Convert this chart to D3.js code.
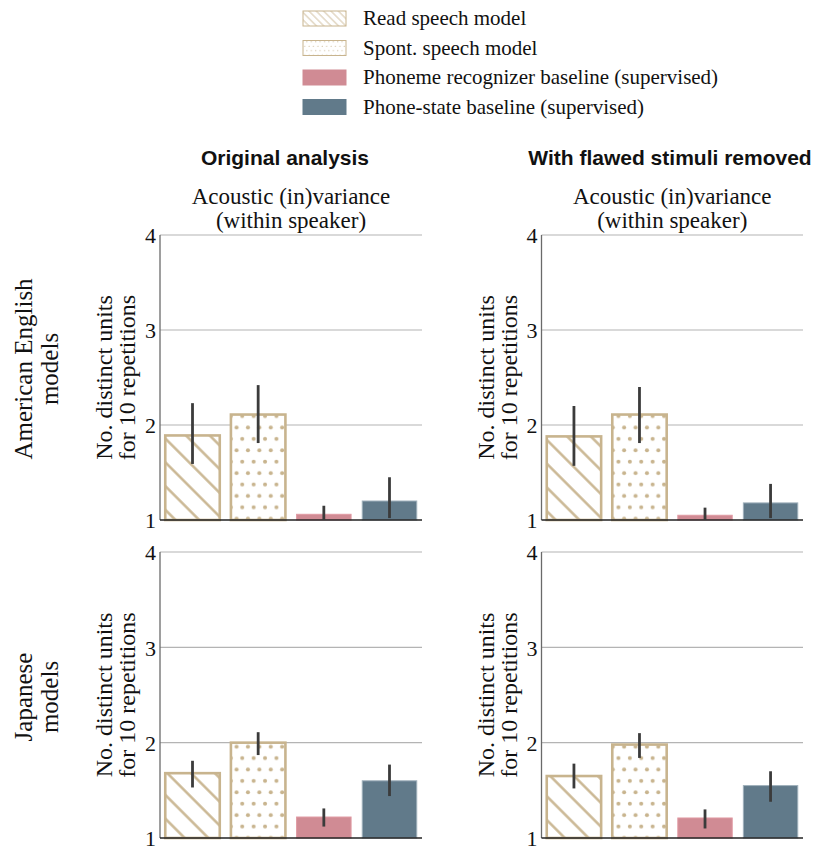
<!DOCTYPE html>
<html>
<head>
<meta charset="utf-8">
<script src="https://cdn.jsdelivr.net/npm/d3@7/dist/d3.min.js"></script>
<style>
  html, body { margin: 0; padding: 0; background: #fff; }
  svg { display: block; }
</style>
</head>
<body>
<svg id="chart" width="817" height="850"></svg>
<script>
// Model names (legend order = bar order)
const models = [
  "Read speech model",
  "Spont. speech model",
  "Phoneme recognizer baseline (supervised)",
  "Phone-state baseline (supervised)"
];

// Column and row headings
const columnTitles = ["Original analysis", "With flawed stimuli removed"];
const panelSubtitle = ["Acoustic (in)variance", "(within speaker)"];
const rowLabels = [["American English", "models"], ["Japanese", "models"]];
const yLabelLines = ["No. distinct units", "for 10 repetitions"];
const yTicks = [1, 2, 3, 4];

// Mean number of distinct units, with 95% interval bounds
const engOriginal     = [1.89, 2.11, 1.06, 1.20];
const engOriginalLo   = [1.59, 1.81, 1.00, 1.02];
const engOriginalHi   = [2.23, 2.42, 1.15, 1.45];

const engFiltered     = [1.88, 2.11, 1.05, 1.18];
const engFilteredLo   = [1.57, 1.81, 1.00, 1.02];
const engFilteredHi   = [2.20, 2.40, 1.13, 1.38];

const jpOriginal      = [1.68, 2.00, 1.22, 1.60];
const jpOriginalLo    = [1.53, 1.87, 1.12, 1.44];
const jpOriginalHi    = [1.81, 2.11, 1.31, 1.77];

const jpFiltered      = [1.65, 1.98, 1.21, 1.55];
const jpFilteredLo    = [1.52, 1.84, 1.10, 1.38];
const jpFilteredHi    = [1.78, 2.10, 1.30, 1.70];

const panels = [
  { row: 0, col: 0, mean: engOriginal, lo: engOriginalLo, hi: engOriginalHi },
  { row: 0, col: 1, mean: engFiltered, lo: engFilteredLo, hi: engFilteredHi },
  { row: 1, col: 0, mean: jpOriginal,  lo: jpOriginalLo,  hi: jpOriginalHi },
  { row: 1, col: 1, mean: jpFiltered,  lo: jpFilteredLo,  hi: jpFilteredHi }
];

// ---- layout & style ----
const SERIF = "'Liberation Serif', 'Times New Roman', serif";
const SANS = "'Liberation Sans', Arial, Helvetica, sans-serif";
const TAN = "#c8b48e";
const PINK = "#d08b94";
const PINK_EDGE = "#e09aa3";
const SLATE = "#617a8a";
const SLATE_EDGE = "#9fb0bb";
const ERR = "#3b3b3b";

const colX = [[160, 422], [541.5, 803]];
const rowY = [[235, 520], [552, 838]];

const svg = d3.select("#chart");
const defs = svg.append("defs");

// diagonal hatch for the read-speech bars
function hatchPattern(id, spacing, width) {
  const p = defs.append("pattern")
    .attr("id", id)
    .attr("patternUnits", "userSpaceOnUse")
    .attr("width", spacing).attr("height", spacing)
    .attr("patternTransform", "rotate(45)");
  p.append("rect").attr("width", spacing).attr("height", spacing).attr("fill", "#fff");
  p.append("line")
    .attr("x1", 0).attr("x2", spacing)
    .attr("y1", spacing / 2).attr("y2", spacing / 2)
    .attr("stroke", TAN).attr("stroke-width", width);
}
// staggered dot grid for the spontaneous-speech bars
function dotPattern(id, gap, r) {
  const p = defs.append("pattern")
    .attr("id", id)
    .attr("patternUnits", "userSpaceOnUse")
    .attr("width", gap).attr("height", gap * 2);
  p.append("rect").attr("width", gap).attr("height", gap * 2).attr("fill", "#fff");
  p.append("circle").attr("cx", gap * 0.25).attr("cy", gap * 0.5).attr("r", r).attr("fill", TAN);
  p.append("circle").attr("cx", gap * 0.75).attr("cy", gap * 1.5).attr("r", r).attr("fill", TAN);
}
hatchPattern("hatchBig", 16.8, 2.4);
dotPattern("dotsBig", 11.4, 2.0);
hatchPattern("hatchSmall", 5.2, 0.8);
dotPattern("dotsSmall", 4.4, 0.6);

const fills = ["url(#hatchBig)", "url(#dotsBig)", PINK, SLATE];
const strokes = [TAN, TAN, PINK_EDGE, SLATE_EDGE];
const strokeW = [2.6, 2.6, 1, 1];

// ---- legend ----
const legendFills = ["url(#hatchSmall)", "url(#dotsSmall)", PINK, SLATE];
const legendStrokes = [TAN, TAN, PINK, SLATE];
const legend = svg.append("g");
const legendRow = d3.scalePoint().domain(models).range([18.5, 107]);
models.forEach((m, i) => {
  const cy = legendRow(m);
  legend.append("rect")
    .attr("x", 303).attr("y", cy - 7.5)
    .attr("width", 43).attr("height", 15)
    .attr("fill", legendFills[i])
    .attr("stroke", legendStrokes[i]).attr("stroke-width", 1);
  legend.append("text")
    .attr("x", 363).attr("y", cy + 6.5)
    .attr("font-family", SERIF).attr("font-size", 21)
    .attr("fill", "#111")
    .text(m);
});

// ---- column titles ----
const titleX = [285, 670];
columnTitles.forEach((t, c) => {
  svg.append("text")
    .attr("x", titleX[c]).attr("y", 165)
    .attr("text-anchor", "middle")
    .attr("font-family", SANS).attr("font-weight", "bold").attr("font-size", 21)
    .attr("fill", "#111")
    .text(t);
});

// ---- row labels ----
const rowLabelY = [369, 697];
rowLabels.forEach((lines, r) => {
  const g = svg.append("g")
    .attr("transform", `translate(0,${rowLabelY[r]}) rotate(-90)`);
  lines.forEach((ln, k) => {
    g.append("text")
      .attr("x", 0).attr("y", 32 + k * 26)
      .attr("text-anchor", "middle")
      .attr("font-family", SERIF).attr("font-size", 25)
      .attr("fill", "#111")
      .text(ln);
  });
});

// ---- panels ----
panels.forEach(p => {
  const [x0, x1] = colX[p.col];
  const [yTop, yBot] = rowY[p.row];
  const x = d3.scaleBand().domain(models).range([x0, x1])
    .paddingInner(0.17).paddingOuter(0.08);
  const y = d3.scaleLinear().domain([1, 4]).range([yBot, yTop]);
  const g = svg.append("g");

  // gridlines
  g.selectAll("line.grid").data(yTicks.filter(v => v > 1)).join("line")
    .attr("x1", x0).attr("x2", x1)
    .attr("y1", d => y(d)).attr("y2", d => y(d))
    .attr("stroke", "#b4b4b4").attr("stroke-width", 1.1);

  // y axis labels via d3 axis
  const axis = d3.axisLeft(y).tickValues(yTicks).tickFormat(d3.format("d")).tickSize(0).tickPadding(4);
  const ag = g.append("g").attr("transform", `translate(${x0},0)`).call(axis);
  ag.select(".domain").remove();
  ag.selectAll("text")
    .attr("font-family", SERIF).attr("font-size", 22).attr("fill", "#111")
    .attr("dy", "0.36em");

  // y-axis title
  const lg = g.append("g")
    .attr("transform", `translate(0,${(yTop + yBot) / 2}) rotate(-90)`);
  yLabelLines.forEach((ln, k) => {
    lg.append("text")
      .attr("x", 0).attr("y", x0 - 48 + k * 23)
      .attr("text-anchor", "middle")
      .attr("font-family", SERIF).attr("font-size", 24)
      .attr("fill", "#111")
      .text(ln);
  });

  // bars
  g.selectAll("rect.bar").data(models).join("rect")
    .attr("x", d => x(d))
    .attr("width", x.bandwidth())
    .attr("y", (d, i) => y(p.mean[i]))
    .attr("height", (d, i) => y(1) - y(p.mean[i]))
    .attr("fill", (d, i) => fills[i])
    .attr("stroke", (d, i) => strokes[i])
    .attr("stroke-width", (d, i) => strokeW[i]);

  // spines
  g.append("line")
    .attr("x1", x0).attr("x2", x0).attr("y1", yTop).attr("y2", yBot)
    .attr("stroke", "#6a6a6a").attr("stroke-width", 1.3);
  g.append("line")
    .attr("x1", x0).attr("x2", x1).attr("y1", yBot).attr("y2", yBot)
    .attr("stroke", "#222").attr("stroke-width", 1.5);

  // error bars
  g.selectAll("line.err").data(models).join("line")
    .attr("x1", d => x(d) + x.bandwidth() / 2)
    .attr("x2", d => x(d) + x.bandwidth() / 2)
    .attr("y1", (d, i) => y(p.lo[i]))
    .attr("y2", (d, i) => y(p.hi[i]))
    .attr("stroke", ERR).attr("stroke-width", 2.8);

  // panel subtitle (top row only)
  if (p.row === 0) {
    panelSubtitle.forEach((ln, k) => {
      g.append("text")
        .attr("x", (x0 + x1) / 2).attr("y", 204 + k * 24)
        .attr("text-anchor", "middle")
        .attr("font-family", SERIF).attr("font-size", 23)
        .attr("fill", "#111")
        .text(ln);
    });
  }
});
</script>
</body>
</html>
